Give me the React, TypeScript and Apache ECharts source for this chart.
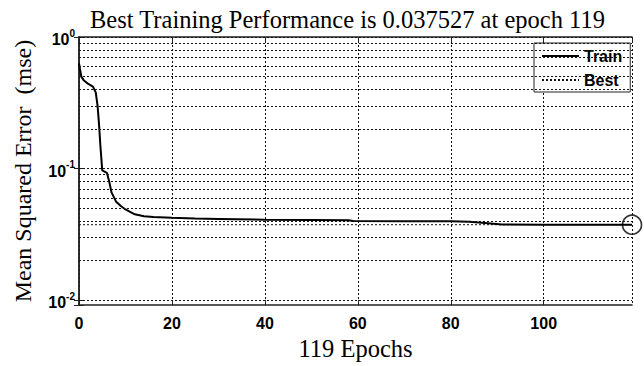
import React, { useEffect, useRef } from 'react';
import * as echarts from 'echarts';

// Training record (epoch, mean squared error)
const epochs = [0, 0.5, 1, 2, 3, 3.6, 4, 4.3, 4.6, 5, 6, 6.5, 7, 8, 9, 10, 11, 12, 14, 16, 20, 25, 30, 40, 50, 58, 59, 70, 80, 84, 88, 91, 100, 110, 119];
const trainMse = [0.63, 0.5, 0.47, 0.44, 0.42, 0.38, 0.3, 0.22, 0.15, 0.097, 0.093, 0.08, 0.066, 0.056, 0.052, 0.049, 0.047, 0.045, 0.0435, 0.043, 0.0423, 0.0418, 0.0415, 0.041, 0.0407, 0.0405, 0.04, 0.0399, 0.0398, 0.0396, 0.0385, 0.0376, 0.03755, 0.03753, 0.037527];

const bestEpoch = 119;
const bestMse = 0.037527;
const totalEpochs = 119;

// Axis layout values
const xMax = 119;
const xStep = 20;
const yMin = 0.0092;
const yMax = 1;
const decades = [0.01, 0.1];
const mantissas = [1, 2, 3, 4, 5, 6, 7, 8, 9];

const titleText = `Best Training Performance is ${bestMse} at epoch ${bestEpoch}`;
const xName = `${totalEpochs} Epochs`;
const yName = 'Mean Squared Error  (mse)';

const serif = '"Liberation Serif", "Times New Roman", serif';
const sans = '"Liberation Sans", Arial, Helvetica, sans-serif';

export default function App() {
  const ref = useRef<HTMLDivElement>(null);

  useEffect(() => {
    if (!ref.current) return;
    const chart = echarts.init(ref.current, undefined, { renderer: 'svg' });

    const gridLevels: number[] = [];
    decades.forEach((d) => mantissas.forEach((m) => gridLevels.push(+(d * m).toPrecision(3))));
    gridLevels.push(1);

    const dotted = { color: '#111', width: 1, type: [2, 2] as number[] };
    const axisLine = { show: true, lineStyle: { color: '#222', width: 1.5 } };
    const tick = { show: true, inside: true, length: 5, lineStyle: { color: '#222', width: 1 } };

    const powerLabel = (v: number) => {
      const e = Math.log10(v);
      const r = Math.round(e);
      if (Math.abs(e - r) > 1e-6) return '';
      return `{b|10}{s|${r}}`;
    };

    const trainData = epochs.map((e, i) => [e, trainMse[i]]);

    chart.setOption({
      animation: false,
      backgroundColor: '#fff',
      title: {
        text: titleText,
        left: 90,
        top: 7,
        padding: 0,
        textStyle: { fontFamily: serif, fontSize: 24.5, fontWeight: 'normal', color: '#000' },
      },
      legend: {
        data: ['Train', 'Best'],
        orient: 'vertical',
        left: 534,
        top: 43,
        padding: [5, 8, 4, 7],
        itemWidth: 37,
        itemHeight: 14,
        itemGap: 8,
        itemStyle: { opacity: 0 },
        backgroundColor: '#fff',
        borderColor: '#222',
        borderWidth: 1,
        borderRadius: 0,
        textStyle: { fontFamily: sans, fontSize: 16, fontWeight: 'bold', color: '#000' },
      },
      grid: { left: 79, right: 12, top: 37, bottom: 53, containLabel: false },
      xAxis: [
        {
          type: 'value',
          min: 0,
          max: xMax,
          interval: xStep,
          position: 'bottom',
          name: xName,
          nameLocation: 'middle',
          nameGap: 26,
          nameTextStyle: { fontFamily: serif, fontSize: 24.5, color: '#000' },
          axisLine,
          axisTick: tick,
          axisLabel: { fontFamily: sans, fontSize: 16, fontWeight: 'bold', color: '#000', margin: 10, showMaxLabel: false },
          splitLine: { show: true, lineStyle: dotted },
        },
        {
          type: 'value',
          min: 0,
          max: xMax,
          interval: xStep,
          position: 'top',
          axisLine,
          axisTick: tick,
          axisLabel: { show: false },
          splitLine: { show: false },
        },
      ],
      yAxis: [
        {
          type: 'log',
          logBase: 10,
          min: yMin,
          max: yMax,
          position: 'left',
          name: yName,
          nameLocation: 'middle',
          nameGap: 44,
          nameTextStyle: { fontFamily: serif, fontSize: 24, color: '#000' },
          axisLine,
          axisTick: tick,
          axisLabel: {
            margin: 4,
            formatter: powerLabel,
            rich: {
              b: { fontFamily: sans, fontSize: 16, fontWeight: 'bold', color: '#000', lineHeight: 18, padding: [5, 0, 0, 0] },
              s: { fontFamily: sans, fontSize: 10, fontWeight: 'bold', color: '#000', verticalAlign: 'top', lineHeight: 10 },
            },
          },
          splitLine: { show: false },
        },
        {
          type: 'log',
          logBase: 10,
          min: yMin,
          max: yMax,
          position: 'right',
          axisLine,
          axisTick: tick,
          axisLabel: { show: false },
          splitLine: { show: false },
        },
      ],
      series: [
        {
          name: 'Best',
          type: 'line',
          data: [
            [0, bestMse],
            [bestEpoch, bestMse],
          ],
          symbol: 'none',
          lineStyle: dotted,
          itemStyle: { color: '#111' },
          z: 2,
          markLine: {
            silent: true,
            symbol: 'none',
            label: { show: false },
            lineStyle: dotted,
            data: gridLevels.map((v) => ({ yAxis: v })),
          },
        },
        {
          name: 'Train',
          type: 'line',
          data: trainData,
          symbol: 'none',
          lineStyle: { color: '#000', width: 2 },
          itemStyle: { color: '#000' },
          z: 3,
        },
        {
          name: 'BestPoint',
          type: 'scatter',
          data: [[bestEpoch, bestMse]],
          symbol: 'circle',
          symbolSize: 19,
          clip: false,
          itemStyle: { color: 'rgba(0,0,0,0)', borderColor: '#000', borderWidth: 1.6 },
          z: 4,
        },
      ],
    });

    return () => chart.dispose();
  }, []);

  return (
    <div
      ref={ref}
      style={{ position: 'fixed', left: 0, top: 0, width: 644, height: 366, background: '#fff' }}
    />
  );
}
